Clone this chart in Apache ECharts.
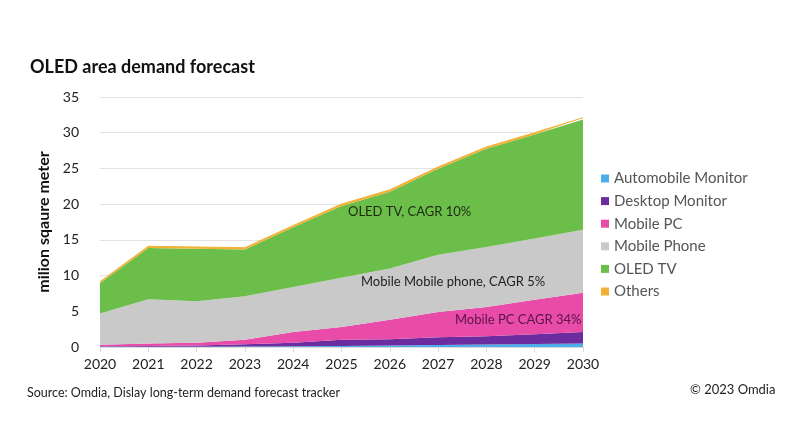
<!DOCTYPE html>
<html>
<head>
<meta charset="utf-8">
<script src="https://cdn.jsdelivr.net/npm/echarts@6/dist/echarts.min.js"></script>
<style>html,body{margin:0;padding:0;background:#fff}#c{width:800px;height:445px}</style>
</head>
<body>
<div id="c"></div>
<script>
var years = ['2020','2021','2022','2023','2024','2025','2026','2027','2028','2029','2030'];
var automobileMonitor = [0.02,0.03,0.04,0.06,0.1,0.15,0.2,0.28,0.35,0.42,0.5];
var desktopMonitor = [0.08,0.12,0.16,0.34,0.5,0.85,0.9,1.07,1.15,1.38,1.6];
var mobilePC = [0.2,0.35,0.4,0.6,1.5,1.8,2.7,3.55,4.1,4.8,5.5];
var mobilePhone = [4.4,6.2,5.8,6.1,6.3,6.9,7.2,8.0,8.4,8.6,8.8];
var oledTV = [4.25,7.15,7.35,6.55,8.35,10.05,10.75,12.05,13.75,14.55,15.45];
var others = [0.2,0.25,0.25,0.25,0.25,0.25,0.25,0.25,0.25,0.25,0.25];
var yTicks = [0,5,10,15,20,25,30,35];

var FONT = 'Lato';
var names = ['Automobile Monitor','Desktop Monitor','Mobile PC','Mobile Phone','OLED TV','Others'];
var colors = ['#4DAEEA','#6A2C9E','#E84BA8','#C9C9C9','#6CBE4B','#F2B134'];
var datas = [automobileMonitor, desktopMonitor, mobilePC, mobilePhone, oledTV, others];

var series = names.map(function(n,i){
  return {
    name: n, type: 'line', stack: 'total', data: datas[i],
    showSymbol: false, symbol: 'none',
    lineStyle: {width: i===5 ? 1 : 0, color: colors[i]},
    itemStyle: {color: colors[i]},
    areaStyle: {color: colors[i], opacity: 1},
    z: 2
  };
});

var chart = echarts.init(document.getElementById('c'));
chart.setOption({
  animation: false,
  backgroundColor: '#fff',
  title: {
    text: 'OLED area demand forecast', left: 30, top: 58, padding: 0,
    textStyle: {fontFamily: FONT, fontSize: 18, fontWeight: 'bold', color: '#111'}
  },
  legend: {
    orient: 'vertical', left: 596, top: 166, itemGap: 7.6,
    itemWidth: 8, itemHeight: 8, icon: 'rect',
    data: names,
    textStyle: {fontFamily: FONT, fontSize: 15, color: '#555'}
  },
  grid: {left: 100, right: 217, top: 97, bottom: 98},
  xAxis: {
    type: 'category', data: years, boundaryGap: false,
    axisLine: {lineStyle: {color: '#d9d9d9'}},
    axisTick: {show: true, lineStyle: {color: '#d9d9d9'}},
    axisLabel: {fontFamily: FONT, fontSize: 14, color: '#222', margin: 10}
  },
  yAxis: {
    type: 'value', min: 0, max: 35, interval: 5,
    name: 'milion sqaure meter', nameLocation: 'middle', nameGap: 44,
    nameTextStyle: {fontFamily: FONT, fontSize: 16, fontWeight: 'bold', color: '#111'},
    axisLine: {show: false}, axisTick: {show: false},
    splitLine: {lineStyle: {color: '#e3e3e3'}},
    axisLabel: {fontFamily: FONT, fontSize: 14, color: '#222', margin: 21,
      formatter: function(v){ return yTicks.indexOf(v) >= 0 ? String(v) : ''; }}
  },
  series: series,
  graphic: [
    {type: 'text', left: 348, top: 205, z: 10,
      style: {text: 'OLED TV, CAGR 10%', font: '13px ' + FONT, fill: '#1e2a10'}},
    {type: 'text', left: 361, top: 275, z: 10,
      style: {text: 'Mobile Mobile phone, CAGR 5%', font: '13px ' + FONT, fill: '#222'}},
    {type: 'text', left: 455, top: 313, z: 10,
      style: {text: 'Mobile PC CAGR 34%', font: '13px ' + FONT, fill: '#5b1446'}},
    {type: 'text', left: 27, top: 386, z: 10,
      style: {text: 'Source: Omdia, Dislay long-term demand forecast tracker', font: '12.5px ' + FONT, fill: '#222'}},
    {type: 'text', left: 690, top: 383, z: 10,
      style: {text: '© 2023 Omdia', font: '13px ' + FONT, fill: '#222'}}
  ]
});
</script>
</body>
</html>
